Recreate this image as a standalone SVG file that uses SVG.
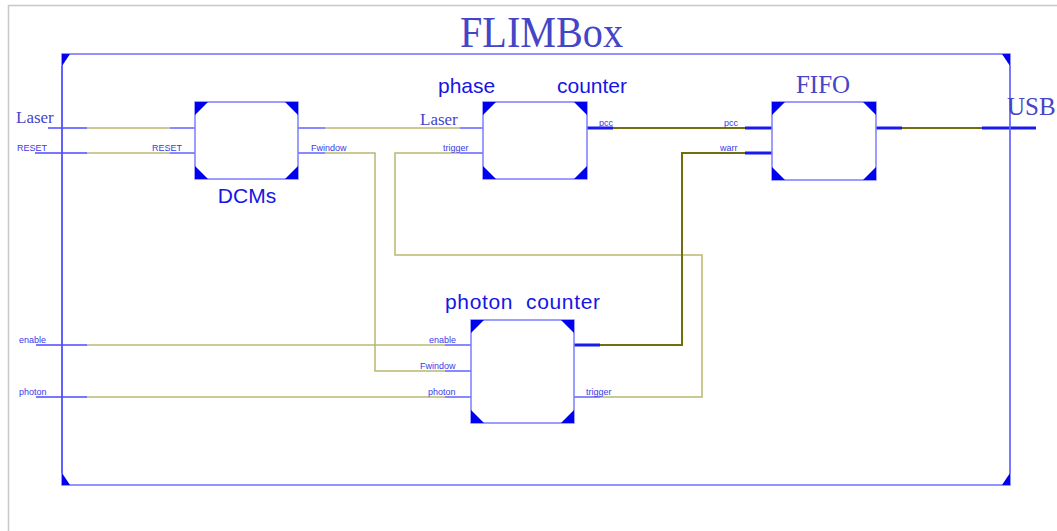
<svg xmlns="http://www.w3.org/2000/svg" width="1057" height="531" viewBox="0 0 1057 531">
<defs>
<style>
.frame{fill:none;stroke:#c8c8c8;stroke-width:1.5}
.box{fill:#fff;stroke:#7d7dff;stroke-width:1.5}
.tri{fill:#0000f0}
.bl{stroke:#4a4aff;stroke-width:1.3;fill:none}
.bus{stroke:#1a1af0;stroke-width:3;fill:none}
.ol{stroke:#b8b870;stroke-width:1.5;fill:none}
.olb{stroke:#6f6f10;stroke-width:2;fill:none}
.port{font-family:"Liberation Sans",Arial,sans-serif;font-size:9px;fill:#3a3ae8}
.name{font-family:"Liberation Sans",Arial,sans-serif;font-size:21px;fill:#1515e8}
.ser{font-family:"Liberation Serif","DejaVu Serif",serif;fill:#4545c8}
</style>
</defs>
<rect width="1057" height="531" fill="#fff"/>
<path class="frame" d="M8.5,531 V5.5 H1057"/>
<g id="flimbox">
<rect x="62" y="54" width="948" height="431" fill="none" stroke="#7070ff" stroke-width="1.5"/>
<polygon class="tri" points="62,54 70,54 62,66"/>
<polygon class="tri" points="1010,54 1002,54 1010,66"/>
<polygon class="tri" points="62,485 70,485 62,473"/>
<polygon class="tri" points="1010,485 1002,485 1010,473"/>
<text class="ser" x="460" y="47" font-size="44" textLength="163" lengthAdjust="spacingAndGlyphs">FLIMBox</text>
</g>
<g id="connectors">
<path class="bl" d="M48,128 H87"/>
<path class="ol" d="M87,128 H170"/>
<path class="bl" d="M170,128 H195"/>
<path class="bl" d="M35,153 H87"/>
<path class="ol" d="M87,153 H170"/>
<path class="bl" d="M170,153 H195"/>
<path class="bl" d="M298,128 H325"/>
<path class="ol" d="M325,128 H460"/>
<path class="bl" d="M460,128 H483"/>
<path class="bl" d="M298,153 H325"/>
<path class="ol" d="M325,153 H375 V371 H445"/>
<path class="bl" d="M445,371 H471"/>
<path class="bl" d="M574,397 H600"/>
<path class="ol" d="M600,397 H702 V255 H395 V153 H460"/>
<path class="bl" d="M460,153 H483"/>
<path class="bus" d="M587,128 H613"/>
<path class="olb" d="M613,128 H745"/>
<path class="bus" d="M745,128 H772"/>
<path class="bus" d="M574,345 H600"/>
<path class="olb" d="M600,345 H682 V153 H745"/>
<path class="bus" d="M745,153 H772"/>
<path class="bus" d="M876,128 H902"/>
<path class="olb" d="M902,128 H982"/>
<path class="bus" d="M982,128 H1036"/>
<path class="bl" d="M36,345 H87"/>
<path class="ol" d="M87,345 H445"/>
<path class="bl" d="M445,345 H471"/>
<path class="bl" d="M36,397 H87"/>
<path class="ol" d="M87,397 H445"/>
<path class="bl" d="M445,397 H471"/>
<path d="M62,66 V473" stroke="#5050ff" stroke-width="1.5"/>
<path d="M1010,66 V473" stroke="#7070ff" stroke-width="1.5"/>
</g>
<g id="labels">
<text class="ser" x="16" y="123" font-size="17">Laser</text>
<text class="port" x="17" y="151">RESET</text>
<text class="port" x="19" y="343">enable</text>
<text class="port" x="19" y="395">photon</text>
<text class="ser" x="1007" y="115" font-size="25">USB</text>
</g>
<g id="dcms">
<rect class="box" x="195" y="102" width="103" height="77"/>
<polygon class="tri" points="195,102 208,102 195,115"/>
<polygon class="tri" points="298,102 285,102 298,115"/>
<polygon class="tri" points="195,179 208,179 195,166"/>
<polygon class="tri" points="298,179 285,179 298,166"/>
<text class="port" x="152" y="151">RESET</text>
<text class="port" x="311" y="151">Fwindow</text>
<text class="name" x="247" y="203" text-anchor="middle">DCMs</text>
</g>
<g id="phase-counter">
<rect class="box" x="483" y="102" width="104" height="77"/>
<polygon class="tri" points="483,102 496,102 483,115"/>
<polygon class="tri" points="587,102 574,102 587,115"/>
<polygon class="tri" points="483,179 496,179 483,166"/>
<polygon class="tri" points="587,179 574,179 587,166"/>
<text class="ser" x="420" y="125" font-size="17">Laser</text>
<text class="port" x="443" y="151">trigger</text>
<text class="port" x="599" y="126">pcc</text>
<text class="name" x="438" y="93" font-size="22">phase</text>
<text class="name" x="557" y="93" font-size="22">counter</text>
</g>
<g id="fifo">
<rect class="box" x="772" y="102" width="104" height="78"/>
<polygon class="tri" points="772,102 785,102 772,115"/>
<polygon class="tri" points="876,102 863,102 876,115"/>
<polygon class="tri" points="772,180 785,180 772,167"/>
<polygon class="tri" points="876,180 863,180 876,167"/>
<text class="port" x="724" y="126">pcc</text>
<text class="port" x="720" y="151">warr</text>
<text class="ser" x="823" y="93" font-size="25" text-anchor="middle">FIFO</text>
</g>
<g id="photon-counter">
<rect class="box" x="471" y="320" width="103" height="103"/>
<polygon class="tri" points="471,320 484,320 471,333"/>
<polygon class="tri" points="574,320 561,320 574,333"/>
<polygon class="tri" points="471,423 484,423 471,410"/>
<polygon class="tri" points="574,423 561,423 574,410"/>
<text class="port" x="429" y="343">enable</text>
<text class="port" x="420" y="369">Fwindow</text>
<text class="port" x="428" y="395">photon</text>
<text class="port" x="586" y="395">trigger</text>
<text class="name" x="445" y="309" font-size="22" xml:space="preserve" textLength="155" lengthAdjust="spacing">photon  counter</text>
</g>
</svg>
